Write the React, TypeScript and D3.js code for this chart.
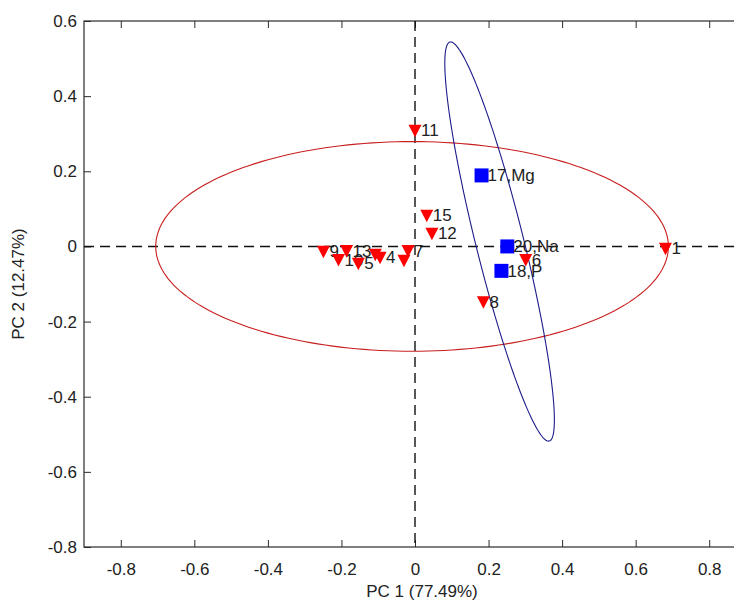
import React, { useRef, useEffect } from "react";
import * as d3 from "d3";

// axis ticks
const xTicks = [-0.8, -0.6, -0.4, -0.2, 0, 0.2, 0.4, 0.6, 0.8];
const yTicks = [-0.8, -0.6, -0.4, -0.2, 0, 0.2, 0.4, 0.6];

// samples (red triangles)
const sampleNames = ["11", "15", "12", "7", "", "9", "10", "13", "5", "", "4", "8", "6", "1"];
const sampleX = [0.0, 0.032, 0.046, -0.019, -0.03, -0.249, -0.208, -0.186, -0.154, -0.108, -0.095, 0.186, 0.301, 0.681];
const sampleY = [0.309, 0.083, 0.035, -0.011, -0.037, -0.013, -0.035, -0.011, -0.045, -0.021, -0.029, -0.147, -0.035, -0.005];

// variables (blue squares)
const loadingNames = ["17,Mg", "20,Na", "18,P"];
const loadingX = [0.181, 0.251, 0.235];
const loadingY = [0.189, 0.0, -0.065];

// ellipses: centre x, centre y, first half-axis (dx, dy), second half-axis (dx, dy)
const scoreEllipse = [-0.008, 0.0, 0.697, 0.0, 0.0, 0.279];
const loadingEllipse = [0.23, 0.013, 0.135, -0.531, 0.063, 0.0156];

function ellipsePoints(e: number[]) {
  const [cx, cy, ax, ay, bx, by] = e;
  return d3.range(0, 201).map((i) => {
    const t = (i / 200) * 2 * Math.PI;
    return [cx + ax * Math.cos(t) + bx * Math.sin(t), cy + ay * Math.cos(t) + by * Math.sin(t)];
  });
}

function Chart() {
  const svgRef = useRef<SVGSVGElement>(null);

  useEffect(() => {
    const svg = d3.select(svgRef.current);
    svg.selectAll("*").remove();

    const width = 760;
    const height = 603;
    const margin = { top: 21, right: 14, bottom: 56, left: 84 };
    const font = "'Liberation Sans', Arial, sans-serif";

    const x = d3.scaleLinear().domain([-0.9, 0.9]).range([margin.left, width - margin.right]);
    const y = d3.scaleLinear().domain([-0.8, 0.6]).range([height - margin.bottom, margin.top]);
    // plain hyphen minus, like the original
    const fmt = (d: number) => (d === 0 ? "0" : d.toFixed(1));

    svg.attr("width", width).attr("height", height).style("background", "#fff");

    const axisColor = "#2b2b2b";
    const styleAxis = (g: any) => {
      g.select(".domain").remove();
      g.selectAll("line").attr("stroke", axisColor);
      g.selectAll("text").attr("font-family", font).attr("font-size", 17).attr("fill", "#222");
    };

    svg.append("g")
      .attr("transform", `translate(0,${height - margin.bottom})`)
      .call(d3.axisBottom(x).tickValues(xTicks).tickFormat(fmt as any).tickSize(-7).tickPadding(16))
      .call(styleAxis);
    svg.append("g")
      .attr("transform", `translate(0,${margin.top})`)
      .call(d3.axisTop(x).tickValues(xTicks).tickFormat(() => "").tickSize(-7))
      .call(styleAxis);
    svg.append("g")
      .attr("transform", `translate(${margin.left},0)`)
      .call(d3.axisLeft(y).tickValues(yTicks).tickFormat(fmt as any).tickSize(-7).tickPadding(7))
      .call(styleAxis);
    svg.append("g")
      .attr("transform", `translate(${width - margin.right},0)`)
      .call(d3.axisRight(y).tickValues(yTicks).tickFormat(() => "").tickSize(-7))
      .call(styleAxis);

    // box
    svg.append("rect")
      .attr("x", margin.left)
      .attr("y", margin.top)
      .attr("width", width - margin.left - margin.right)
      .attr("height", height - margin.top - margin.bottom)
      .attr("fill", "none")
      .attr("stroke", axisColor)
      .attr("stroke-width", 1.2);

    // zero lines
    svg.append("line")
      .attr("x1", margin.left).attr("x2", width - margin.right)
      .attr("y1", y(0)).attr("y2", y(0))
      .attr("stroke", "#111").attr("stroke-width", 1.4).attr("stroke-dasharray", "10,6");
    svg.append("line")
      .attr("x1", x(0)).attr("x2", x(0))
      .attr("y1", margin.top).attr("y2", height - margin.bottom)
      .attr("stroke", "#111").attr("stroke-width", 1.4).attr("stroke-dasharray", "10,6");

    const line = d3.line().x((d: any) => x(d[0])).y((d: any) => y(d[1]));
    svg.append("path")
      .attr("d", line(ellipsePoints(scoreEllipse) as any))
      .attr("fill", "none").attr("stroke", "#c81e1e").attr("stroke-width", 1.1);
    svg.append("path")
      .attr("d", line(ellipsePoints(loadingEllipse) as any))
      .attr("fill", "none").attr("stroke", "#1c1c8a").attr("stroke-width", 1.1);

    // squares
    svg.append("g").selectAll("rect")
      .data(loadingNames.map((n, i) => ({ n, x: loadingX[i], y: loadingY[i] })))
      .join("rect")
      .attr("x", (d) => x(d.x) - 7)
      .attr("y", (d) => y(d.y) - 7)
      .attr("width", 14).attr("height", 14)
      .attr("fill", "#0000ff");

    const labels = [
      ...loadingNames.map((n, i) => ({ n, x: loadingX[i], y: loadingY[i] })),
      ...sampleNames.map((n, i) => ({ n, x: sampleX[i], y: sampleY[i] })),
    ];
    svg.append("g").selectAll("text")
      .data(labels)
      .join("text")
      .attr("x", (d) => x(d.x) + 6)
      .attr("y", (d) => y(d.y) + 6)
      .attr("font-family", font).attr("font-size", 17).attr("fill", "#222")
      .text((d) => d.n);

    // triangles
    svg.append("g").selectAll("path")
      .data(sampleNames.map((n, i) => ({ n, x: sampleX[i], y: sampleY[i] })))
      .join("path")
      .attr("d", (d) => {
        const px = x(d.x), py = y(d.y);
        return `M${px - 6.5},${py - 5.5}L${px + 6.5},${py - 5.5}L${px},${py + 7}Z`;
      })
      .attr("fill", "#ff0000");

    // axis titles
    svg.append("text")
      .attr("x", 422).attr("y", 597)
      .attr("text-anchor", "middle")
      .attr("font-family", font).attr("font-size", 17).attr("fill", "#222")
      .text("PC 1 (77.49%)");
    svg.append("text")
      .attr("transform", `translate(24,${(margin.top + height - margin.bottom) / 2}) rotate(-90)`)
      .attr("text-anchor", "middle")
      .attr("font-family", font).attr("font-size", 17).attr("fill", "#222")
      .text("PC 2 (12.47%)");
  }, []);

  return <svg ref={svgRef}></svg>;
}

export default function App() {
  return (
    <div style={{ position: "absolute", left: 0, top: 0, width: 734, height: 603, overflow: "hidden", background: "#fff" }}>
      <Chart />
    </div>
  );
}
